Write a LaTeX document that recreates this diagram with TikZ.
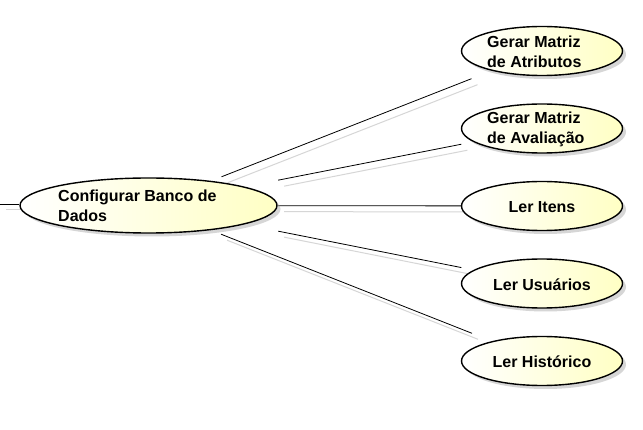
\documentclass[tikz,border=0pt]{standalone}
\usepackage{fontspec}
\setmainfont{Liberation Sans}
\usetikzlibrary{shapes.geometric,shadows,backgrounds}
\definecolor{ucyellow}{RGB}{255,255,196}
\begin{document}
\begin{tikzpicture}[x=1pt,y=-1pt,
 uc/.style={ellipse, draw=black, line width=1.4pt, left color=white, right color=ucyellow, inner sep=0pt,
   drop shadow={shadow xshift=3.5pt,shadow yshift=-3.5pt,fill=black!35,opacity=0.45}},
 smalluc/.style={uc, minimum width=161pt, minimum height=49pt},
 ucbox/.style={rectangle, draw=none, inner sep=0pt},
 smallbox/.style={ucbox, minimum width=161pt, minimum height=55pt},
 txt/.style={font=\bfseries\fontsize{16}{19.5}\selectfont, align=left, inner sep=0pt, anchor=west},
 ctxt/.style={font=\bfseries\fontsize{16}{19.5}\selectfont, inner sep=0pt},
 assoc/.style={draw=black, line width=0.8pt},
 assocsh/.style={draw=black!16, line width=1pt, transform canvas={xshift=6pt,yshift=-6pt}}
]
\useasboundingbox (0,0) rectangle (643,430);

% use cases
\node[uc, minimum width=257pt, minimum height=55pt] (main) at (148.5,205.5) {};
\node[ucbox, minimum width=259pt, minimum height=57pt] (mainB) at (main.center) {};
\node[txt] (mainT) at (58,206) {Configurar Banco de\\Dados};

\node[smalluc] (atr) at (542,51) {};
\node[smallbox] (atrB) at (atr.center) {};
\node[txt] (atrT) at (487,52) {Gerar Matriz\\de Atributos};

\node[smalluc] (ava) at (542,128.5) {};
\node[smallbox] (avaB) at (ava.center) {};
\node[txt] (avaT) at (487,129.5) {Gerar Matriz\\de Avaliação};

\node[smalluc] (itn) at (542,206) {};
\node[smallbox] (itnB) at (itn.center) {};
\node[ctxt] (itnT) at (542,207) {Ler Itens};

\node[smalluc] (usu) at (542,283.5) {};
\node[smallbox] (usuB) at (usu.center) {};
\node[ctxt] (usuT) at (542,284.5) {Ler Usuários};

\node[smalluc] (his) at (542,361) {};
\node[smallbox] (hisB) at (his.center) {};
\node[ctxt] (hisT) at (542,362) {Ler Histórico};

\coordinate (lft) at (0,204);

% associations
\begin{scope}[on background layer]
 \fill[white] (0,0) rectangle (643,430);
 \foreach \t in {atrB,avaB,itnB,usuB,hisB}{
   \draw[assocsh] (mainB) -- (\t);
 }
 \draw[assocsh] (lft) -- (lft -| mainB.west);
 \foreach \t in {atrB,avaB,itnB,usuB,hisB}{
   \draw[assoc] (mainB) -- (\t);
 }
 \draw[assoc] (lft) -- (lft -| mainB.west);
\end{scope}
\end{tikzpicture}
\end{document}
